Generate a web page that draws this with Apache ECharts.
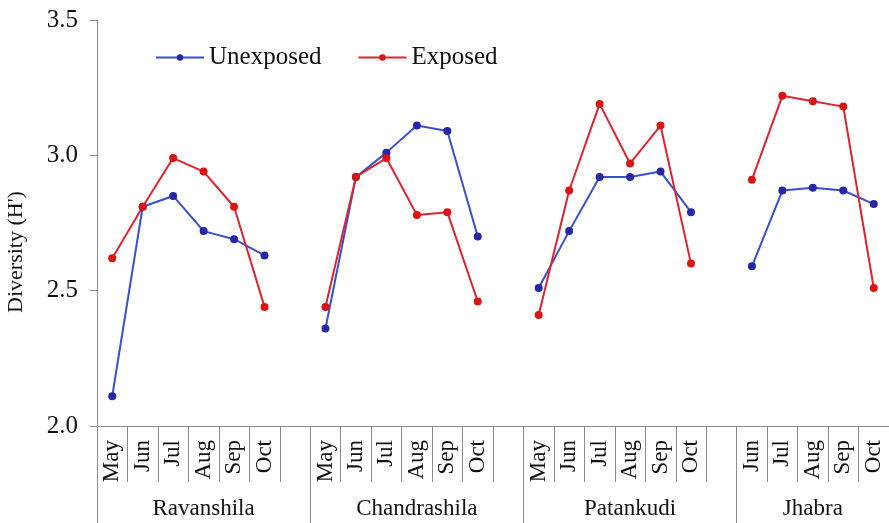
<!DOCTYPE html>
<html>
<head>
<meta charset="utf-8">
<script src="https://cdn.jsdelivr.net/npm/echarts@6/dist/echarts.min.js"></script>
<style>html,body{margin:0;padding:0;background:#fff}#c{width:889px;height:523px}</style>
</head>
<body>
<div id="c"></div>
<script>
// ---- data ----
const groups = ['Ravanshila', 'Chandrashila', 'Patankudi', 'Jhabra'];
const ravanshilaMonths = ['May', 'Jun', 'Jul', 'Aug', 'Sep', 'Oct'];
const chandrashilaMonths = ['May', 'Jun', 'Jul', 'Aug', 'Sep', 'Oct'];
const patankudiMonths = ['May', 'Jun', 'Jul', 'Aug', 'Sep', 'Oct'];
const jhabraMonths = ['Jun', 'Jul', 'Aug', 'Sep', 'Oct'];

const unexposedRavanshila = [2.11, 2.81, 2.85, 2.72, 2.69, 2.63];
const unexposedChandrashila = [2.36, 2.92, 3.01, 3.11, 3.09, 2.70];
const unexposedPatankudi = [2.51, 2.72, 2.92, 2.92, 2.94, 2.79];
const unexposedJhabra = [2.59, 2.87, 2.88, 2.87, 2.82];

const exposedRavanshila = [2.62, 2.81, 2.99, 2.94, 2.81, 2.44];
const exposedChandrashila = [2.44, 2.92, 2.99, 2.78, 2.79, 2.46];
const exposedPatankudi = [2.41, 2.87, 3.19, 2.97, 3.11, 2.60];
const exposedJhabra = [2.91, 3.22, 3.20, 3.18, 2.51];

const yTicks = ['2.0', '2.5', '3.0', '3.5'];

// ---- build ----
const monthLists = [ravanshilaMonths, chandrashilaMonths, patankudiMonths, jhabraMonths];
const unexposedLists = [unexposedRavanshila, unexposedChandrashila, unexposedPatankudi, unexposedJhabra];
const exposedLists = [exposedRavanshila, exposedChandrashila, exposedPatankudi, exposedJhabra];

const categories = [];
const unexposed = [];
const exposed = [];
const groupStarts = [];
const groupCenters = {};
groups.forEach((g, gi) => {
  const start = categories.length;
  groupStarts.push(start);
  monthLists[gi].forEach((m, i) => {
    categories.push(g + '|' + m);
    unexposed.push(unexposedLists[gi][i]);
    exposed.push(exposedLists[gi][i]);
  });
  if (gi < groups.length - 1) {
    categories.push(g + '|');
    unexposed.push(null);
    exposed.push(null);
  }
  const count = categories.length - start;
  groupCenters[start + Math.floor(count / 2)] = g;
});

const FONT = '"Liberation Serif", "DejaVu Serif", serif';
const AXIS_GRAY = '#8c8c8c';

const chart = echarts.init(document.getElementById('c'), null, {renderer: 'canvas'});
chart.setOption({
  animation: false,
  backgroundColor: '#ffffff',
  grid: {left: 97, right: 0, top: 20, bottom: 97, containLabel: false, outerBoundsMode: 'none'},
  legend: {
    left: 150, top: 40,
    itemWidth: 48, itemHeight: 8, itemGap: 36,
    textStyle: {fontFamily: FONT, fontSize: 25, color: '#111'},
    data: ['Unexposed', 'Exposed']
  },
  xAxis: [
    {
      type: 'category', data: categories, position: 'bottom',
      boundaryGap: true,
      axisLine: {show: true, lineStyle: {color: AXIS_GRAY, width: 1}},
      axisTick: {show: true, interval: 0, length: 56, lineStyle: {color: AXIS_GRAY}},
      axisLabel: {
        interval: 0, rotate: 90, margin: 14,
        fontFamily: FONT, fontSize: 23, color: '#111',
        formatter: v => v.split('|')[1]
      }
    },
    {
      type: 'category', data: categories, position: 'bottom',
      boundaryGap: true,
      axisLine: {show: false},
      axisTick: {
        show: true, length: 100, lineStyle: {color: AXIS_GRAY},
        interval: (i) => groupStarts.indexOf(i) >= 0
      },
      axisLabel: {
        margin: 71, fontFamily: FONT, fontSize: 23, color: '#111',
        interval: (i) => groupCenters[i] !== undefined,
        formatter: (v, i) => groupCenters[i] || ''
      }
    }
  ],
  yAxis: {
    type: 'value', min: 2, max: 3.5, interval: 0.5,
    name: 'Diversity (H\')', nameLocation: 'middle', nameGap: 70,
    nameTextStyle: {fontFamily: FONT, fontSize: 22, color: '#111', padding: [0, 58, 0, 0]},
    axisLine: {show: true, lineStyle: {color: AXIS_GRAY}},
    axisTick: {show: true, inside: false, length: 7, lineStyle: {color: AXIS_GRAY}},
    splitLine: {show: false},
    axisLabel: {
      margin: 19, fontFamily: FONT, fontSize: 25, color: '#111',
      formatter: v => yTicks[Math.round((v - 2) / 0.5)]
    }
  },
  series: [
    {
      name: 'Unexposed', type: 'line', xAxisIndex: 0, data: unexposed,
      connectNulls: false, symbol: 'circle', symbolSize: 8,
      lineStyle: {color: '#3a4fc8', width: 2},
      itemStyle: {color: '#2626a6'}
    },
    {
      name: 'Exposed', type: 'line', xAxisIndex: 0, data: exposed,
      connectNulls: false, symbol: 'circle', symbolSize: 8,
      lineStyle: {color: '#dc2430', width: 2},
      itemStyle: {color: '#d81414'}
    }
  ]
});
</script>
</body>
</html>
